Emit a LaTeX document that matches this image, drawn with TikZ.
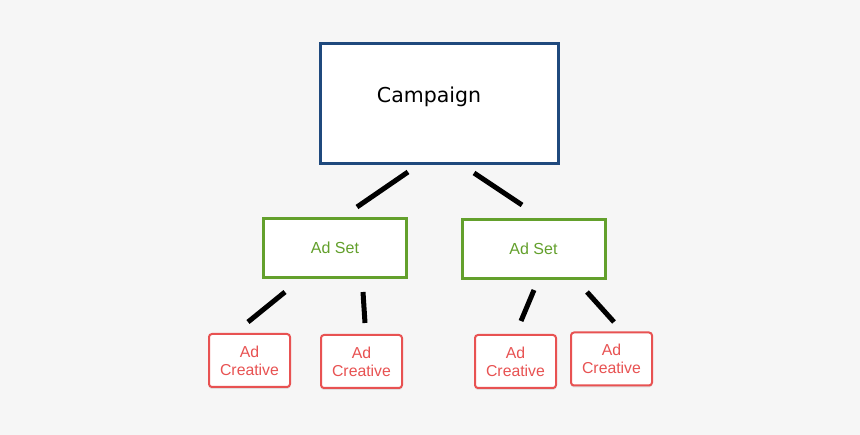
\documentclass[tikz,border=0pt]{standalone}
\usepackage{fontspec}
\setmainfont{Liberation Sans}
\newfontfamily\dejavu{DejaVu Sans}
\usetikzlibrary{shadows}
\definecolor{bgc}{RGB}{246,246,246}
\definecolor{campblue}{RGB}{31,73,125}
\definecolor{setgreen}{RGB}{99,160,44}
\definecolor{adred}{RGB}{232,82,82}
\tikzset{
  campbox/.style={draw=campblue, line width=3pt, fill=white, minimum width=238pt, minimum height=120pt, inner sep=0pt},
  setbox/.style={draw=setgreen, line width=3pt, fill=white, minimum width=143pt, minimum height=59pt, inner sep=0pt,
    text=setgreen, font=\fontsize{16}{18}\selectfont,
    drop shadow={opacity=0.25, shadow xshift=0pt, shadow yshift=-2pt}},
  adbox/.style={draw=adred, line width=2pt, fill=white, rounded corners=3pt, minimum width=81pt, minimum height=53pt, inner sep=0pt,
    text=adred, align=center, font=\fontsize{15.8}{18}\selectfont,
    drop shadow={opacity=0.2, shadow xshift=0pt, shadow yshift=-2pt}},
  conn/.style={line width=5pt, black}
}
\begin{document}
\begin{tikzpicture}[x=1pt, y=-1pt]
\fill[bgc] (0,0) rectangle (860,435);
\useasboundingbox (0,0) rectangle (860,435);
% nodes
\node[campbox, label={[xshift=-10.5pt, yshift=6.5pt, font=\dejavu\fontsize{20.5}{24}\selectfont]center:Campaign}] (camp) at (439.5,103.5) {};
\node[setbox] (setL) at (335,248) {Ad Set};
\node[setbox] (setR) at (533.5,249) {Ad Set};
\node[adbox] (ad1) at (249.5,360.5) {Ad\\Creative};
\node[adbox] (ad2) at (361.5,361.5) {Ad\\Creative};
\node[adbox] (ad3) at (515.5,361.5) {Ad\\Creative};
\node[adbox] (ad4) at (611.5,359) {Ad\\Creative};
% connector end points (connectors float between boxes)
\coordinate (cL1) at (408,172); \coordinate (cL2) at (357,207);
\coordinate (cR1) at (474,173); \coordinate (cR2) at (522,205);
\coordinate (a1s) at (285,292); \coordinate (a1e) at (248,322);
\coordinate (a2s) at (363,292); \coordinate (a2e) at (365,323);
\coordinate (a3s) at (534,290); \coordinate (a3e) at (521,321);
\coordinate (a4s) at (587,292); \coordinate (a4e) at (614,322);
\draw[conn] (cL1) -- (cL2);
\draw[conn] (cR1) -- (cR2);
\draw[conn] (a1s) -- (a1e);
\draw[conn] (a2s) -- (a2e);
\draw[conn] (a3s) -- (a3e);
\draw[conn] (a4s) -- (a4e);
\end{tikzpicture}
\end{document}
